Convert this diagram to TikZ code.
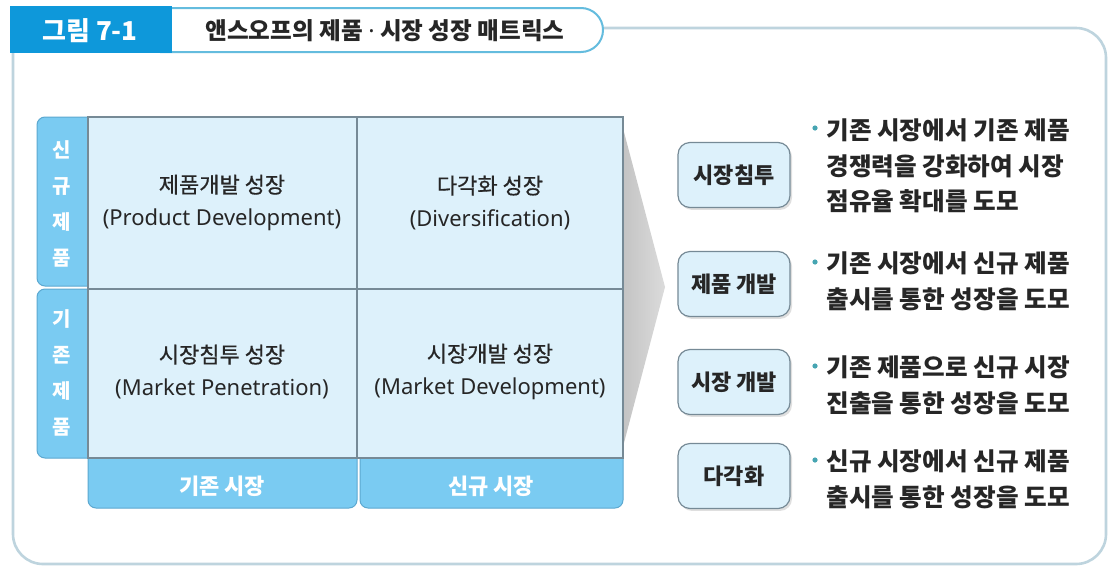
\documentclass[tikz,border=0pt]{standalone}
\usepackage{fontspec}
\setmainfont{Noto Sans CJK KR}
\newfontfamily\latinfont{Noto Sans}
\newfontfamily\krsemi{Noto Sans CJK KR}[FakeBold=0.6]
\usetikzlibrary{shadows}

\definecolor{hdrblue}{RGB}{14,152,218}
\definecolor{tabblue}{RGB}{122,203,242}
\definecolor{tabedge}{RGB}{92,168,208}
\definecolor{cellfill}{RGB}{221,241,251}
\definecolor{celledge}{RGB}{118,138,150}
\definecolor{frameline}{RGB}{190,212,222}
\definecolor{titleedge}{RGB}{100,188,222}
\definecolor{txt}{RGB}{38,38,38}
\definecolor{dotteal}{RGB}{70,165,178}

\tikzset{
  tabbox/.style={fill=tabblue, draw=tabedge, line width=0.5pt, rounded corners=4pt},
  cellbox/.style={fill=cellfill, draw=celledge, line width=0.6pt},
  celltext/.style={align=center, text=txt, inner sep=0pt,
    font=\fontsize{11}{16.5}\selectfont},
  sidetext/.style={align=center, text=white, inner sep=0pt,
    font=\fontsize{10}{18}\selectfont\bfseries},
  bottext/.style={text=white, inner sep=0pt,
    font=\fontsize{11}{13}\selectfont\bfseries},
  lblbox/.style={fill=cellfill, draw=celledge, line width=0.6pt,
    rounded corners=6pt, minimum width=56pt, minimum height=32.5pt,
    inner sep=0pt, text=txt, font=\fontsize{11}{13}\selectfont\bfseries,
    drop shadow={opacity=0.25, shadow xshift=1pt, shadow yshift=-1.2pt}},
  bullettext/.style={anchor=west, align=left, inner sep=0pt, text=txt,
    font=\fontsize{12.3}{17.8}\selectfont\bfseries},
  bulletdot/.style={circle, fill=dotteal, inner sep=0pt, minimum size=2.6pt}
}

\begin{document}
\begin{tikzpicture}[x=0.5pt, y=-0.5pt]
\useasboundingbox (0,0) rectangle (1112,568);
\fill[white] (0,0) rectangle (1112,568);

% outer frame
\draw[frameline, line width=1.3pt, rounded corners=15pt]
  (600,28) -- (1106,28) -- (1106,564) -- (13,564) -- (13,50);

% title tab and caption
\draw[titleedge, fill=white, line width=1pt, rounded corners=11pt]
  (160,8) -- (603,8) -- (603,52) -- (160,52);
\fill[hdrblue] (10,6) rectangle (172,53);
\node[text=white, inner sep=0pt, font=\fontsize{13}{15}\selectfont\bfseries]
  (fignum) at (90,31) {그림 7-1};
\node[text=txt, inner sep=0pt, font=\fontsize{11.8}{14}\selectfont\bfseries]
  (title) at (385,31) {앤스오프의 제품 {\latinfont\bfseries·} 시장 성장 매트릭스};

% pointer from the matrix towards the strategy list
\shade[left color=gray!48, right color=gray!28]
  (620,117) -- (665,287) -- (620,458) -- cycle;

% axis tabs
\draw[tabbox] (37,117) rectangle (100,286);
\draw[tabbox] (37,289) rectangle (100,458);
\draw[tabbox] (88,445) rectangle (357,508);
\draw[tabbox] (360,445) rectangle (623,508);

% matrix cells
\draw[cellbox] (88,117) rectangle (357,289);
\draw[cellbox] (357,117) rectangle (623,289);
\draw[cellbox] (88,289) rectangle (357,458);
\draw[cellbox] (357,289) rectangle (623,458);

\node[celltext] (pd) at (222,203) {{\krsemi 제품개발 성장}\\{\latinfont (Product Development)}};
\node[celltext] (dv) at (490,203) {{\krsemi 다각화 성장}\\{\latinfont (Diversification)}};
\node[celltext] (mp) at (222,372) {{\krsemi 시장침투 성장}\\{\latinfont (Market Penetration)}};
\node[celltext] (md) at (490,372) {{\krsemi 시장개발 성장}\\{\latinfont (Market Development)}};

\node[sidetext] (newprod) at (62,204) {신\\규\\제\\품};
\node[sidetext] (oldprod) at (62,373) {기\\존\\제\\품};
\node[bottext] (oldmkt) at (222,486) {기존 시장};
\node[bottext] (newmkt) at (491,486) {신규 시장};

% strategy labels
\node[lblbox] (l1) at (734,175) {시장침투};
\node[lblbox] (l2) at (734,284) {제품 개발};
\node[lblbox] (l3) at (734,382) {시장 개발};
\node[lblbox] (l4) at (734,476) {다각화};

% descriptions
\node[bullettext] (t1) at (826,166) {기존 시장에서 기존 제품\\경쟁력을 강화하여 시장\\점유율 확대를 도모};
\node[bullettext] (t2) at (826,281) {기존 시장에서 신규 제품\\출시를 통한 성장을 도모};
\node[bullettext] (t3) at (826,385) {기존 제품으로 신규 시장\\진출을 통한 성장을 도모};
\node[bullettext] (t4) at (826,479) {신규 시장에서 신규 제품\\출시를 통한 성장을 도모};

\node[bulletdot] (d1) at (815,128) {};
\node[bulletdot] (d2) at (815,262) {};
\node[bulletdot] (d3) at (815,366) {};
\node[bulletdot] (d4) at (815,460) {};
\end{tikzpicture}
\end{document}
